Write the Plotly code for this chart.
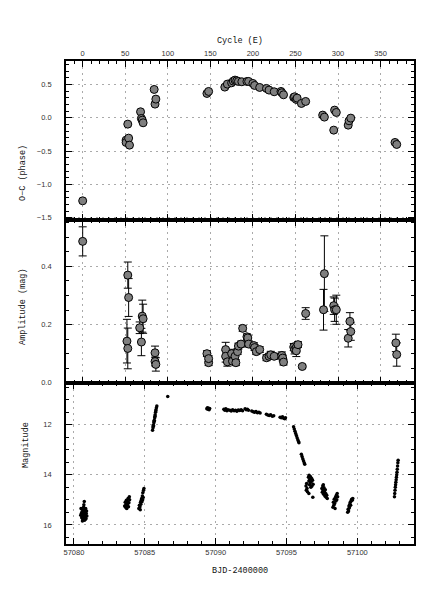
import plotly.graph_objects as go

# O-C of superhump maxima
oc_cycle = [0, 51, 51, 53, 54, 55, 68, 69, 70, 71, 84, 85, 86, 146, 148,
            167, 170, 175, 177, 179, 181, 183, 187, 193, 195, 200, 202, 208,
            216, 219, 225, 233, 234, 236, 248, 249, 251, 252, 257, 262,
            282, 284, 295, 296, 298, 312, 313, 315, 367, 369]
oc_val = [-1.245, -0.335, -0.37, -0.095, -0.305, -0.41, 0.09, -0.01, -0.035, -0.075,
          0.425, 0.205, 0.28, 0.365, 0.395,
          0.46, 0.505, 0.525, 0.55, 0.565, 0.555, 0.545, 0.54, 0.545, 0.545, 0.515,
          0.485, 0.455, 0.44, 0.415, 0.39, 0.395, 0.375, 0.345, 0.305, 0.315, 0.275,
          0.295, 0.215, 0.245, 0.04, 0.01, -0.185, 0.115, 0.08, -0.11, -0.045, -0.005,
          -0.37, -0.40]
oc_err = [0.01, 0.01, 0.01, 0.03, 0.01, 0.01, 0.01, 0.01, 0.01, 0.01,
          0.01, 0.01, 0.01, 0.01, 0.01,
          0.01, 0.01, 0.01, 0.01, 0.01, 0.01, 0.01, 0.01, 0.01, 0.01, 0.01,
          0.01, 0.01, 0.01, 0.01, 0.01, 0.01, 0.01, 0.01, 0.01, 0.01, 0.01,
          0.01, 0.01, 0.01, 0.01, 0.01, 0.01, 0.01, 0.01, 0.01, 0.01, 0.01,
          0.01, 0.01]

# superhump amplitudes
amp_cycle = [0, 52, 53, 53, 54, 67, 69, 70, 71, 85, 85, 86, 146, 148, 148,
             168, 168, 170, 175, 176, 179, 180, 182, 183, 186, 188, 193, 194, 195,
             201, 202, 204, 208, 216, 219, 221, 225, 234, 235, 236,
             248, 249, 251, 251, 253, 258, 262, 283, 284, 295, 296, 298,
             312, 314, 315, 368, 369]
amp_val = [0.486, 0.143, 0.118, 0.370, 0.293, 0.189, 0.140, 0.229, 0.220, 0.103, 0.073, 0.063,
           0.100, 0.069, 0.083, 0.114, 0.091, 0.072, 0.100, 0.074, 0.091, 0.069, 0.107, 0.126,
           0.133, 0.187, 0.158, 0.154, 0.133, 0.128, 0.121, 0.107, 0.114, 0.086, 0.091, 0.096,
           0.091, 0.094, 0.085, 0.071, 0.123, 0.114, 0.121, 0.110, 0.131, 0.056, 0.238,
           0.251, 0.375, 0.265, 0.251, 0.251, 0.153, 0.211, 0.176, 0.137, 0.097]
amp_err = [0.05, 0.075, 0.07, 0.045, 0.065, 0.02, 0.047, 0.055, 0.05, 0.023, 0.015, 0.023,
           0.01, 0.01, 0.01, 0.025, 0.02, 0.015, 0.015, 0.01, 0.01, 0.01, 0.01, 0.01,
           0.01, 0.01, 0.01, 0.01, 0.01, 0.01, 0.01, 0.01, 0.01, 0.01, 0.01, 0.012,
           0.01, 0.012, 0.01, 0.01, 0.012, 0.015, 0.015, 0.02, 0.01, 0.005, 0.02,
           0.07, 0.13, 0.03, 0.04, 0.05, 0.03, 0.03, 0.03, 0.03, 0.04]

# light curve
lc_bjd = [
    57080.48, 57080.50, 57080.52, 57080.55, 57080.57, 57080.60, 57080.62, 57080.64, 57080.66,
    57080.68, 57080.70, 57080.72, 57080.73, 57080.75, 57080.77, 57080.79, 57080.81, 57080.83,
    57080.85, 57080.87, 57080.89, 57080.91, 57080.60, 57080.70, 57080.80,
    57083.58, 57083.62, 57083.65, 57083.68, 57083.70, 57083.73, 57083.76, 57083.79, 57083.82,
    57083.85, 57083.88, 57083.91, 57083.70, 57083.80, 57083.93,
    57084.58, 57084.62, 57084.66, 57084.70, 57084.72, 57084.75, 57084.78, 57084.80, 57084.83,
    57084.86, 57084.88, 57084.91, 57084.94, 57084.68, 57084.85,
    57085.55, 57085.58, 57085.61, 57085.64, 57085.67, 57085.70, 57085.73, 57085.76, 57085.79,
    57085.82, 57085.85, 57085.60, 57085.66, 57085.72, 57085.78,
    57086.62,
    57089.38, 57089.42, 57089.46, 57089.50, 57089.54, 57089.58,
    57090.58, 57090.65, 57090.72, 57090.80, 57090.87,
    57091.00, 57091.10, 57091.20, 57091.30, 57091.40, 57091.50, 57091.60, 57091.70, 57091.80, 57091.90,
    57092.08, 57092.16, 57092.24, 57092.32,
    57092.55, 57092.65, 57092.75, 57092.85, 57092.95, 57093.05, 57093.14,
    57093.58, 57093.68, 57093.78, 57093.88, 57094.00, 57094.10,
    57094.55, 57094.63, 57094.72, 57094.80, 57094.88, 57094.93,
    57095.50, 57095.55, 57095.60, 57095.65, 57095.70, 57095.75, 57095.80, 57095.85, 57095.88,
    57096.05, 57096.10, 57096.15, 57096.20, 57096.25, 57096.29,
    57096.38, 57096.40, 57096.42, 57096.45, 57096.48, 57096.55, 57096.58, 57096.60, 57096.63,
    57096.65, 57096.68, 57096.70, 57096.72, 57096.75, 57096.78, 57096.80, 57096.84, 57096.86,
    57096.88, 57096.58,
    57097.50, 57097.53, 57097.56, 57097.59, 57097.62, 57097.65, 57097.68, 57097.71, 57097.74,
    57097.77, 57097.80, 57097.84, 57097.88, 57097.60,
    57098.28, 57098.31, 57098.34, 57098.37, 57098.40, 57098.43, 57098.46, 57098.49, 57098.52,
    57098.55, 57098.58, 57098.61,
    57099.32, 57099.35, 57099.38, 57099.41, 57099.44, 57099.47, 57099.50, 57099.53, 57099.56,
    57099.60, 57099.64, 57099.68,
    57102.62, 57102.64, 57102.66, 57102.68, 57102.70, 57102.72, 57102.74, 57102.76, 57102.78,
    57102.80, 57102.82, 57102.84, 57102.86, 57102.88,
]
lc_mag = [
    15.62, 15.35, 15.55, 15.72, 15.48, 15.66, 15.40, 15.78, 15.58,
    15.30, 15.70, 15.50, 15.07, 15.82, 15.60, 15.42, 15.68, 15.35,
    15.75, 15.55, 15.45, 15.65, 15.85, 15.20, 15.78,
    15.25, 15.10, 15.30, 15.18, 15.02, 15.35, 15.22, 15.08, 14.95,
    15.28, 15.12, 14.88, 15.33, 15.15, 15.00,
    15.35, 15.22, 15.28, 15.10, 15.18, 15.02, 14.95, 15.08, 14.85,
    14.72, 14.90, 14.62, 14.55, 15.40, 15.00,
    12.22, 12.12, 12.02, 11.92, 11.82, 11.72, 11.60, 11.50, 11.40,
    11.32, 11.25, 12.06, 11.86, 11.66, 11.45,
    10.87,
    11.36, 11.32, 11.38, 11.34, 11.40, 11.35,
    11.38, 11.42, 11.36, 11.44, 11.40,
    11.42, 11.45, 11.40, 11.44, 11.42, 11.46, 11.41, 11.43, 11.40, 11.44,
    11.36, 11.40, 11.38, 11.42,
    11.45, 11.48, 11.50, 11.47, 11.52, 11.50, 11.53,
    11.58, 11.61, 11.63, 11.60, 11.66, 11.64,
    11.70, 11.72, 11.68, 11.74, 11.76, 11.72,
    12.08, 12.17, 12.26, 12.35, 12.43, 12.52, 12.60, 12.67, 12.72,
    13.18, 13.27, 13.36, 13.44, 13.52, 13.58,
    14.45, 14.62, 14.35, 14.55, 14.68, 14.10, 14.25, 14.02, 14.40,
    14.18, 14.32, 14.08, 14.50, 14.28, 14.15, 14.45, 14.22, 14.90,
    14.38, 14.75,
    14.55, 14.70, 14.45, 14.62, 14.78, 14.52, 14.68, 14.85, 14.60,
    14.75, 14.90, 14.82, 14.95, 14.40,
    15.30, 15.10, 15.22, 14.98, 15.15, 15.35, 14.90, 15.05, 14.82,
    15.00, 14.75, 14.88,
    15.50, 15.38, 15.45, 15.25, 15.32, 15.18, 15.10, 15.22, 15.05,
    14.98, 15.02, 14.95,
    14.88, 14.75, 14.62, 14.50, 14.40, 14.30, 14.20, 14.10, 14.00,
    13.90, 13.78, 13.65, 13.52, 13.42,
]

W, H = 436, 599
x0, x1 = 66 / W, 414 / W
tick_font = dict(family="Liberation Sans", size=7.5, color="#333")
title_font = dict(family="Liberation Mono", size=8.5, color="#111")

fig = go.Figure()

fig.add_trace(go.Scatter(
    x=oc_cycle, y=oc_val, mode="markers", xaxis="x", yaxis="y",
    error_y=dict(type="data", array=oc_err, color="black", thickness=1, width=3),
    marker=dict(size=8, color="#7f7f7f", line=dict(color="black", width=1)),
    showlegend=False))

fig.add_trace(go.Scatter(
    x=amp_cycle, y=amp_val, mode="markers", xaxis="x2", yaxis="y2",
    error_y=dict(type="data", array=amp_err, color="black", thickness=1, width=4),
    marker=dict(size=8, color="#7f7f7f", line=dict(color="black", width=1)),
    showlegend=False))

fig.add_trace(go.Scatter(
    x=lc_bjd, y=lc_mag, mode="markers", xaxis="x3", yaxis="y3",
    marker=dict(size=3.5, color="black"),
    showlegend=False))


def frame(**kw):
    d = dict(showline=True, linewidth=1.8, linecolor="black", mirror="ticks",
             ticks="inside", ticklen=6, tickwidth=1, tickcolor="black",
             showgrid=True, gridcolor="#aaa", griddash="2px,4px", gridwidth=1,
             zeroline=False, tickfont=tick_font, automargin=False)
    d.update(kw)
    return d


def minor(step):
    return dict(dtick=step, ticks="inside", ticklen=3, tickcolor="black", showgrid=False)


fig.update_layout(
    width=W, height=H,
    margin=dict(l=0, r=0, t=0, b=0),
    paper_bgcolor="white", plot_bgcolor="white",
    xaxis=frame(domain=[x0, x1], anchor="y", side="top", range=[-19.6, 389.3],
                dtick=50, tick0=0, minor=minor(10)),
    yaxis=frame(domain=[0.633, 0.898], anchor="x", range=[-1.53, 0.85],
                dtick=0.5, tick0=0, tickformat=".1f", minor=minor(0.1), ticklabelstandoff=11),
    xaxis2=frame(domain=[x0, x1], anchor="y2", matches="x", showticklabels=False,
                 dtick=50, tick0=0, minor=minor(10)),
    yaxis2=frame(domain=[0.361, 0.633], anchor="x2", range=[0, 0.56],
                 dtick=0.2, tick0=0, tickformat=".1f", minor=minor(0.05), ticklabelstandoff=11),
    xaxis3=frame(domain=[x0, x1], anchor="y3", range=[57079.44, 57104.0],
                 dtick=5, tick0=57080, tickformat="d", minor=minor(1)),
    yaxis3=frame(domain=[0.092, 0.361], anchor="x3", range=[16.76, 10.32],
                 dtick=2, tick0=10, minor=minor(0.5), ticklabelstandoff=11),
    annotations=[
        dict(text="Cycle (E)", x=(x0 + x1) / 2, y=1 - 34 / H, xref="paper", yref="paper",
             showarrow=False, font=title_font),
        dict(text="BJD-2400000", x=(x0 + x1) / 2, y=1 - 578 / H, xref="paper", yref="paper",
             showarrow=False, font=title_font),
        dict(text="O−C (phase)", x=16 / W, y=1 - 143 / H, xref="paper", yref="paper",
             showarrow=False, textangle=-90, font=title_font),
        dict(text="Amplitude (mag)", x=16 / W, y=1 - 307 / H, xref="paper", yref="paper",
             showarrow=False, textangle=-90, font=title_font),
        dict(text="Magnitude", x=19 / W, y=1 - 470 / H, xref="paper", yref="paper",
             showarrow=False, textangle=-90, font=title_font),
    ],
)

# drop the default page margin so the figure sits at the window origin
fig.write_html("out.html", config={"displayModeBar": False},
               post_script="document.body.style.margin='0';")
